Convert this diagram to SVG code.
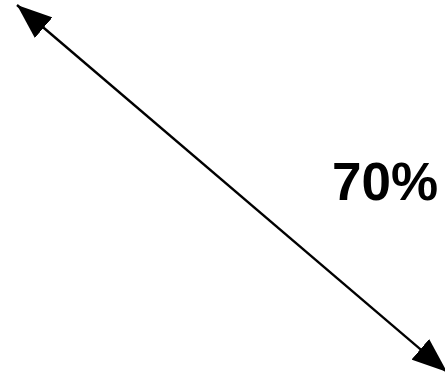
<svg xmlns="http://www.w3.org/2000/svg" width="445" height="373" viewBox="0 0 445 373">
<style>
.conn{stroke:#000;stroke-width:2.4;fill:none}
.lbl{font-family:"Liberation Sans",Arial,sans-serif;font-weight:bold;font-size:53px;fill:#000}
</style>
<defs>
<marker id="ah" viewBox="0 -13.5 35 27" refX="35" refY="0" markerWidth="35" markerHeight="27" markerUnits="userSpaceOnUse" orient="auto-start-reverse">
<path d="M0,-13.5 L35,0 L0,13.5 z" fill="#000"/>
</marker>
</defs>
<rect width="445" height="373" fill="#fff"/>
<g id="connectors">
<line class="conn" x1="17" y1="5" x2="447" y2="372" marker-start="url(#ah)" marker-end="url(#ah)"/>
</g>
<g id="label-70">
<text class="lbl" x="332" y="200">70%</text>
</g>
</svg>
